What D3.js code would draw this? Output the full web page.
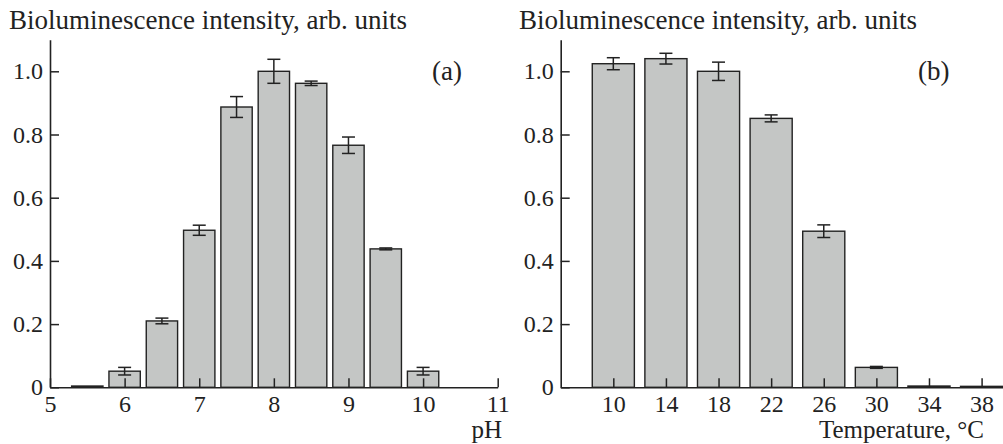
<!DOCTYPE html>
<html>
<head>
<meta charset="utf-8">
</head>
<body style="margin:0">
<script src="https://d3js.org/d3.v7.min.js"></script>
<script>
// panel (a): pH
const phValues = [5.5, 6, 6.5, 7, 7.5, 8, 8.5, 9, 9.5, 10]
const phIntensity = [0.004, 0.051, 0.21, 0.497, 0.887, 1.0, 0.962, 0.766, 0.438, 0.051]
const phError = [0, 0.012, 0.009, 0.016, 0.033, 0.038, 0.007, 0.026, 0.003, 0.012]
const phTicks = [5, 6, 7, 8, 9, 10, 11]

// panel (b): temperature
const tempValues = [10, 14, 18, 22, 26, 30, 34, 38]
const tempIntensity = [1.024, 1.04, 1.0, 0.851, 0.494, 0.063, 0.004, 0.003]
const tempError = [0.019, 0.017, 0.029, 0.011, 0.02, 0.003, 0, 0]
const tempTicks = [10, 14, 18, 22, 26, 30, 34, 38]

const yTicks = [0, 0.2, 0.4, 0.6, 0.8, 1.0]
const yTitle = "Bioluminescence intensity, arb. units"

const w = 1003
const h = 444
const serif = "'Liberation Serif', 'Times New Roman', serif"

const svg = d3.select("body").append("svg")
  .attr("width", w).attr("height", h)
  .style("font-family", serif)

const y = d3.scaleLinear().domain([0, 1.1]).range([387.3, 39.7])
const yFmt = d => d === 0 ? "0" : d3.format(".1f")(d)

function drawPanel(opts) {
  const g = svg.append("g")
  const x = d3.scaleLinear().domain(opts.xDomain).range(opts.xRange)
  const data = opts.xs.map((v, i) => ({ v: v, val: opts.vals[i], err: opts.errs[i] }))

  g.selectAll("rect.bar").data(data).enter().append("rect")
    .attr("class", "bar")
    .attr("x", d => x(d.v - opts.half))
    .attr("width", d => x(d.v + opts.half) - x(d.v - opts.half))
    .attr("y", d => y(d.val))
    .attr("height", d => y(0) - y(d.val))
    .attr("fill", "#c4c6c5")
    .attr("stroke", "#222")
    .attr("stroke-width", 1.4)

  // error bars
  const eb = g.selectAll("g.err").data(data.filter(d => d.err > 0)).enter().append("g")
    .attr("stroke", "#222").attr("stroke-width", 1.5)
  eb.append("line")
    .attr("x1", d => x(d.v)).attr("x2", d => x(d.v))
    .attr("y1", d => y(d.val - d.err)).attr("y2", d => y(d.val + d.err))
  eb.append("line")
    .attr("x1", d => x(d.v) - 6.5).attr("x2", d => x(d.v) + 6.5)
    .attr("y1", d => y(d.val + d.err)).attr("y2", d => y(d.val + d.err))
  eb.append("line")
    .attr("x1", d => x(d.v) - 6.5).attr("x2", d => x(d.v) + 6.5)
    .attr("y1", d => y(d.val - d.err)).attr("y2", d => y(d.val - d.err))

  const xAxis = d3.axisBottom(x).tickValues(opts.xTicks).tickFormat(d3.format("d"))
    .tickSizeInner(-9).tickSizeOuter(0).tickPadding(8)
  g.append("g").attr("transform", "translate(0," + y(0) + ")").call(xAxis)

  const yAxis = d3.axisLeft(y).tickValues(yTicks).tickFormat(yFmt)
    .tickSizeInner(-9).tickSizeOuter(0).tickPadding(7)
  g.append("g").attr("transform", "translate(" + opts.xRange[0] + ",0)").call(yAxis)

  g.selectAll(".domain").attr("stroke", "#222").attr("stroke-width", 1.6)
  g.selectAll(".tick line").attr("stroke", "#222").attr("stroke-width", 1.5)
  g.selectAll(".tick text").attr("font-size", 24)

  g.append("text").attr("x", opts.titleX).attr("y", 29)
    .attr("font-size", 27).text(yTitle)
  g.append("text").attr("x", opts.tagX).attr("y", 80)
    .attr("font-size", 27).text(opts.tag)
  g.append("text").attr("x", opts.xLabelX).attr("y", 438)
    .attr("text-anchor", "end").attr("font-size", 25).text(opts.xLabel)
}

drawPanel({
  xs: phValues, vals: phIntensity, errs: phError, half: 0.21,
  xDomain: [5, 11], xRange: [50, 497.7], xTicks: phTicks,
  titleX: 9, tag: "(a)", tagX: 432, xLabel: "pH", xLabelX: 502
})

drawPanel({
  xs: tempValues, vals: tempIntensity, errs: tempError, half: 1.6,
  xDomain: [6, 40], xRange: [560.7, 1007.9], xTicks: tempTicks,
  titleX: 519, tag: "(b)", tagX: 918, xLabel: "Temperature, \u00B0C", xLabelX: 984
})

// axis groups default to sans-serif; force the serif face on every label
svg.selectAll("g").attr("font-family", null)
svg.selectAll("text").style("font-family", serif).attr("fill", "#222")
</script>
</body>
</html>
